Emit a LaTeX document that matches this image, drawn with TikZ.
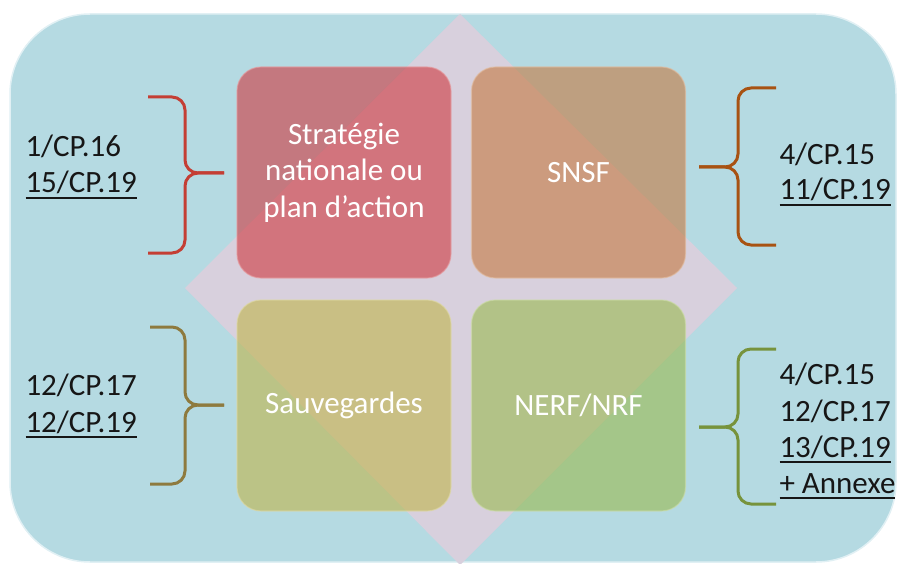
\documentclass[tikz,border=0pt]{standalone}
\usepackage{fontspec}
\setmainfont{Carlito}
\definecolor{bgblue}{RGB}{181,218,226}
\definecolor{lavender}{RGB}{216,208,221}
\definecolor{redbox}{RGB}{206,55,61}
\definecolor{orangebox}{RGB}{196,121,63}
\definecolor{olivebox}{RGB}{192,180,74}
\definecolor{greenbox}{RGB}{154,185,78}
\definecolor{redbrace}{RGB}{196,62,52}
\definecolor{orangebrace}{RGB}{168,82,18}
\definecolor{olivebrace}{RGB}{142,122,62}
\definecolor{greenbrace}{RGB}{119,147,60}
\definecolor{labeltext}{RGB}{22,22,22}
\newcommand{\ulbar}[1]{\setbox0\hbox{#1}\rlap{\rule[-6pt]{\wd0}{2.2pt}}\box0}
\newcommand{\curly}[7]{%
  \draw[#1, rounded corners=13pt] (#2,#5) -- (#3,#5) -- (#3,#7) -- (#4,#7);
  \draw[#1, rounded corners=13pt] (#2,#6) -- (#3,#6) -- (#3,#7) -- (#4,#7);}
\begin{document}
\begin{tikzpicture}[x=1pt, y=-1pt, line width=3pt,
  every node/.style={font=\fontsize{31}{36.5}\selectfont, text=labeltext, inner sep=0pt},
  tile/.style={rounded corners=24pt, minimum width=214pt, minimum height=211pt,
    fill=#1, draw=#1!50!white, line width=1.2pt, fill opacity=0.6, draw opacity=0.6,
    text opacity=1, text=white, align=center},
  ref/.style={anchor=base west}]
  \useasboundingbox (0,0) rectangle (902,564);
  % background and diamond
  \fill[bgblue, rounded corners=80pt] (10,14) rectangle (896,562);
  \draw[white!60!bgblue, line width=1.5pt, rounded corners=80pt] (10,14) rectangle (896,562);
  \fill[lavender] (460,14) -- (737,288) -- (460,565) -- (185,288) -- cycle;
  % the four tiles
  \node[tile=redbox] (strat) at (344,172.5) {Stratégie\\nationale ou\\plan d’action};
  \node[tile=orangebox] (snsf) at (578.5,172.5) {SNSF};
  \node[tile=olivebox] (sauv) at (344,405.5) {Sauvegardes};
  \node[tile=greenbox] (nerf) at (578.5,405.5) {NERF/NRF};
  % decisions
  \node[ref] (d1a) at (24,157) {1/CP.16};
  \node[ref] (d1b) at (24,193) {\ulbar{15/CP.19}};
  \node[ref] (d2a) at (778,165) {4/CP.15};
  \node[ref] (d2b) at (778,200) {\ulbar{11/CP.19}};
  \node[ref] (d3a) at (24,395) {12/CP.17};
  \node[ref] (d3b) at (24,432) {\ulbar{12/CP.19}};
  \node[ref] (d4a) at (778,384) {4/CP.15};
  \node[ref] (d4b) at (778,421) {12/CP.17};
  \node[ref] (d4c) at (778,457) {\ulbar{13/CP.19}};
  \node[ref] (d4d) at (778,493) {\ulbar{+ Annexe}};
  % braces
  \curly{redbrace}{148}{185}{224}{97}{253}{173}
  \curly{orangebrace}{776}{738}{699}{88}{245}{167}
  \curly{olivebrace}{150}{185}{224}{327}{484}{405}
  \curly{greenbrace}{776}{738}{699}{349}{504}{427}
\end{tikzpicture}
\end{document}
